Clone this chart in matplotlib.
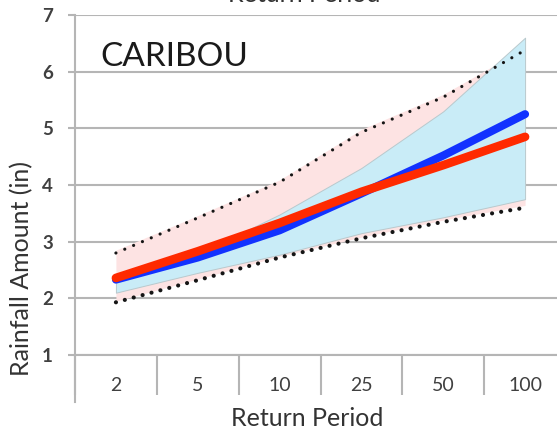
import numpy as np
import matplotlib
matplotlib.use("Agg")
import matplotlib.pyplot as plt
from matplotlib.lines import Line2D

categories = ['2', '5', '10', '25', '50', '100']
red_line = [2.36, 2.83, 3.33, 3.88, 4.35, 4.85]
blue_line = [2.33, 2.72, 3.20, 3.85, 4.52, 5.25]
upper_dotted = [2.80, 3.42, 4.05, 4.93, 5.55, 6.38]
lower_dotted = [1.93, 2.32, 2.72, 3.06, 3.35, 3.60]
pink_upper = [2.85, 3.46, 4.09, 4.98, 5.60, 6.42]
pink_lower = [1.95, 2.34, 2.74, 3.08, 3.38, 3.64]
cyan_upper = [2.33, 2.78, 3.48, 4.30, 5.30, 6.60]
cyan_lower = [2.10, 2.45, 2.77, 3.15, 3.43, 3.75]
yticks = [1, 2, 3, 4, 5, 6, 7]

plt.rcParams['font.family'] = ['Lato', 'DejaVu Sans']

W, H = 557, 438
fig = plt.figure(figsize=(W / 100, H / 100), dpi=100)
ax = fig.add_axes([75 / W, 1 - 355 / H, 491 / W, 340 / H])
x = np.arange(len(categories))
ax.set_xlim(-0.5, len(categories) - 0.5)
ax.set_ylim(1, 7)

ax.fill_between(x, pink_lower, pink_upper, color='#fde3e3', lw=0, zorder=1)
ax.fill_between(x, cyan_lower, cyan_upper, facecolor='#c9ecf7',
                edgecolor='#b9c9cd', lw=0.7, zorder=2)
ax.plot(x, upper_dotted, color='#151515', lw=2.3, ls=(0, (0.01, 3.0)),
        dash_capstyle='round', zorder=3)
ax.plot(x, lower_dotted, color='#151515', lw=3.0, ls=(0, (0.01, 2.2)),
        dash_capstyle='round', zorder=3)
ax.plot(x, blue_line, color='#1232ff', lw=5.8, solid_capstyle='round', zorder=4)
ax.plot(x, red_line, color='#ff2a00', lw=6.2, solid_capstyle='round', zorder=5)

# grid & spines
ax.set_yticks(yticks)
ax.yaxis.grid(True, color='#b5b5b5', lw=1.5, zorder=0)
ax.set_axisbelow(True)
for s in ['top', 'right']:
    ax.spines[s].set_visible(False)
for s in ['left', 'bottom']:
    ax.spines[s].set_color('#b5b5b5')
    ax.spines[s].set_linewidth(1.5)
ax.add_line(Line2D([0, 0], [0, -47 / 340], transform=ax.transAxes,
                   color='#b5b5b5', lw=1.5, clip_on=False))

ax.tick_params(axis='y', length=5, width=1.5, color='#b5b5b5', pad=11,
               labelsize=13.5, labelcolor='#404040')
for lab in ax.get_yticklabels():
    lab.set_fontweight('bold')

ax.set_xticks(np.arange(-0.5, len(categories), 1.0))
ax.set_xticklabels([])
ax.tick_params(axis='x', which='major', length=29, width=1.5, color='#b5b5b5')
ax.set_xticks(x, minor=True)
ax.set_xticklabels(categories, minor=True)
ax.tick_params(axis='x', which='minor', length=0, pad=16, labelsize=14,
               labelcolor='#404040')

ax.text(25 / 491, 0.876, 'CARIBOU', transform=ax.transAxes, fontsize=24,
        color='#1a1a1a', va='center', ha='left')

fig.text(22 / W, 1 - 268 / H, 'Rainfall Amount (in)', rotation=90,
         fontsize=18, color='#333333', ha='center', va='center')
fig.text(307 / W, 1 - 418 / H, 'Return Period', fontsize=18, color='#333333',
         ha='center', va='center')
fig.text(304 / W, 1 - 2 / H, 'Return Period', fontsize=18, color='#333333',
         ha='center', va='baseline',
         bbox=dict(facecolor='white', edgecolor='none', pad=6))

fig.savefig('out.png', dpi=100)
